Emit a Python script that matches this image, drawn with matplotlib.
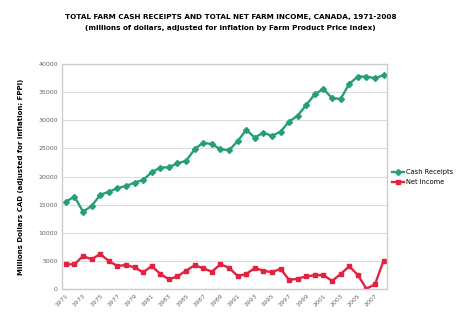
import numpy as np
import matplotlib.pyplot as plt

years = list(range(1971, 2009))
cash_receipts = [15530, 16420, 13750, 14770, 16730, 17310, 17910, 18330, 18910, 19400,
                 20770, 21590, 21650, 22360, 22780, 24860, 26030, 25750, 24860, 24680,
                 26280, 28290, 26920, 27810, 27220, 27990, 29770, 30840, 32740, 34640,
                 35590, 33930, 33810, 36480, 37780, 37780, 37490, 38020]
net_income = [4390, 4390, 5870, 5280, 6230, 4980, 4090, 4270, 3850, 2960,
              4090, 2670, 1720, 2250, 3260, 4210, 3680, 3080, 4390, 3790,
              2310, 2670, 3710, 3260, 2960, 3610, 1600, 1840, 2250, 2440,
              2490, 1420, 2670, 4040, 2490, 50, 830, 5040]
yticks = list(range(0, 40001, 5000))
xtick_years = years[::2]

green = '#25a074'
red = '#e3223f'

fig = plt.figure(figsize=(4.61, 3.14), dpi=100)
ax = fig.add_axes([0.1345, 0.0796, 0.705, 0.7164])

x = np.arange(len(years))
ax.plot(x, cash_receipts, color=green, lw=1.7, marker='D', ms=3, label='Cash Receipts')
ax.plot(x, net_income, color=red, lw=1.7, marker='s', ms=3.5, label='Net Income')

ax.set_xlim(-0.45, len(years) - 0.6)
ax.set_ylim(0, 40000)
ax.set_yticks(yticks)
ax.set_yticklabels([str(v) for v in yticks], fontsize=4.5, color='#666666')
ax.set_xticks(x[::2])
ax.set_xticklabels([str(y) for y in xtick_years], fontsize=4.5, rotation=45,
                   ha='right', rotation_mode='anchor', color='#666666')
ax.tick_params(length=0, pad=3)
ax.grid(axis='y', color='#dddddd', lw=0.8)
ax.set_axisbelow(True)
for s in ax.spines.values():
    s.set_color('#cccccc')
    s.set_linewidth(1)

ax.set_ylabel('Millions Dollars CAD (adjusted for inflation; FPPI)', fontsize=5,
              fontweight='bold', labelpad=10)

fig.text(0.5, 0.94, 'TOTAL FARM CASH RECEIPTS AND TOTAL NET FARM INCOME, CANADA, 1971-2008',
         ha='center', fontsize=5.2, fontweight='bold')
fig.text(0.5, 0.905, '(millions of dollars, adjusted for inflation by Farm Product Price Index)',
         ha='center', fontsize=5.2, fontweight='bold')

fig.legend(loc='center left', bbox_to_anchor=(0.848, 0.435), frameon=False,
           fontsize=4.8, handlelength=1.7, handletextpad=0.4, labelspacing=0.6,
           borderaxespad=0, borderpad=0.2)

fig.savefig('out.png', dpi=100)
